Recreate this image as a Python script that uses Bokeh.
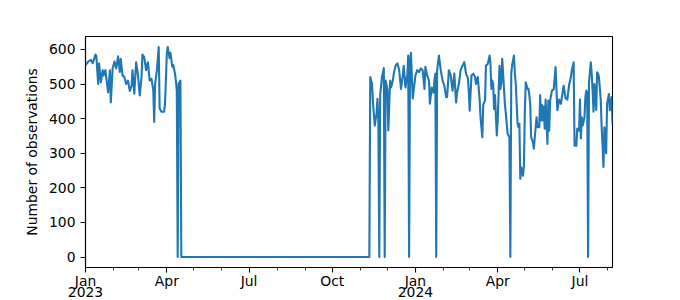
import pandas as pd
from bokeh.plotting import figure
from bokeh.models import Range1d, FixedTicker, DatetimeTickFormatter, DatetimeAxis
from bokeh.embed import file_html
from bokeh.resources import INLINE

# ---- data ----
dates = [
    "2023-01-01", "2023-01-04", "2023-01-07", "2023-01-09", "2023-01-12", "2023-01-13",
    "2023-01-15", "2023-01-16", "2023-01-18", "2023-01-20", "2023-01-21", "2023-01-23",
    "2023-01-26", "2023-01-28", "2023-01-29", "2023-01-31", "2023-02-02", "2023-02-04",
    "2023-02-06", "2023-02-08", "2023-02-09", "2023-02-11", "2023-02-13", "2023-02-15",
    "2023-02-17", "2023-02-19", "2023-02-21", "2023-02-22", "2023-02-24", "2023-02-26",
    "2023-02-28", "2023-03-02", "2023-03-04", "2023-03-05", "2023-03-07", "2023-03-09",
    "2023-03-11", "2023-03-13", "2023-03-15", "2023-03-17", "2023-03-18", "2023-03-19",
    "2023-03-21", "2023-03-23", "2023-03-24", "2023-03-26", "2023-03-29", "2023-03-30",
    "2023-04-01", "2023-04-02", "2023-04-04", "2023-04-05", "2023-04-07", "2023-04-08",
    "2023-04-10", "2023-04-11", "2023-04-12", "2023-04-13", "2023-04-14", "2023-04-16",
    "2023-04-17", "2023-11-11",
    "2023-11-12", "2023-11-14", "2023-11-15", "2023-11-17", "2023-11-19", "2023-11-20",
    "2023-11-21", "2023-11-22", "2023-11-23", "2023-11-25", "2023-11-27", "2023-11-28",
    "2023-11-29", "2023-12-01", "2023-12-02", "2023-12-04", "2023-12-05", "2023-12-07",
    "2023-12-08", "2023-12-10", "2023-12-12", "2023-12-14", "2023-12-16", "2023-12-18",
    "2023-12-19", "2023-12-21", "2023-12-23", "2023-12-24", "2023-12-25", "2023-12-26",
    "2023-12-27", "2023-12-29",
    "2024-01-01", "2024-01-03", "2024-01-05", "2024-01-07", "2024-01-09", "2024-01-11",
    "2024-01-12", "2024-01-14", "2024-01-16", "2024-01-17", "2024-01-19", "2024-01-21",
    "2024-01-22", "2024-01-23", "2024-01-24", "2024-01-25", "2024-01-27", "2024-01-29",
    "2024-01-31", "2024-02-02", "2024-02-04", "2024-02-05", "2024-02-07", "2024-02-09",
    "2024-02-11", "2024-02-13", "2024-02-15", "2024-02-16", "2024-02-18", "2024-02-20",
    "2024-02-22", "2024-02-24", "2024-02-26", "2024-02-28", "2024-02-29", "2024-03-01",
    "2024-03-03", "2024-03-05", "2024-03-07", "2024-03-08", "2024-03-10", "2024-03-12",
    "2024-03-13", "2024-03-15", "2024-03-16", "2024-03-18", "2024-03-19", "2024-03-21",
    "2024-03-23", "2024-03-24", "2024-03-25", "2024-03-26", "2024-03-27", "2024-03-28",
    "2024-03-29", "2024-03-31", "2024-04-01", "2024-04-03", "2024-04-04", "2024-04-05",
    "2024-04-06", "2024-04-07", "2024-04-09", "2024-04-10", "2024-04-12", "2024-04-14",
    "2024-04-15", "2024-04-16", "2024-04-17", "2024-04-19", "2024-04-20", "2024-04-21",
    "2024-04-23", "2024-04-24", "2024-04-25", "2024-04-26", "2024-04-27", "2024-04-29",
    "2024-04-30", "2024-05-01", "2024-05-02", "2024-05-04", "2024-05-05", "2024-05-06",
    "2024-05-07", "2024-05-08", "2024-05-10", "2024-05-11", "2024-05-12", "2024-05-14",
    "2024-05-15", "2024-05-17", "2024-05-18", "2024-05-19", "2024-05-20", "2024-05-21",
    "2024-05-22", "2024-05-23", "2024-05-24", "2024-05-26", "2024-05-27", "2024-05-28",
    "2024-05-29", "2024-05-31", "2024-06-02", "2024-06-04", "2024-06-05", "2024-06-06",
    "2024-06-08", "2024-06-10", "2024-06-11", "2024-06-13", "2024-06-15", "2024-06-17",
    "2024-06-19", "2024-06-21", "2024-06-22", "2024-06-24", "2024-06-25", "2024-06-27",
    "2024-06-28", "2024-06-30", "2024-07-01", "2024-07-02", "2024-07-03", "2024-07-04",
    "2024-07-06", "2024-07-07", "2024-07-08", "2024-07-09", "2024-07-10", "2024-07-11",
    "2024-07-13", "2024-07-14", "2024-07-15", "2024-07-16", "2024-07-17", "2024-07-19",
    "2024-07-20", "2024-07-21", "2024-07-22", "2024-07-24", "2024-07-25", "2024-07-26",
    "2024-07-27", "2024-07-28", "2024-07-30", "2024-07-31", "2024-08-02", "2024-08-03",
    "2024-08-05", "2024-08-06",
]
counts = [
    555, 565, 570, 560, 585, 580,
    500, 560, 505, 540, 525, 540,
    476, 540, 447, 545, 565, 545,
    580, 535, 573, 525, 520, 500,
    510, 480, 495, 540, 472, 563,
    527, 467, 520, 585, 578, 540,
    563, 510, 515, 482, 390, 500,
    540, 607, 430, 420, 420, 445,
    590, 607, 575, 590, 550, 555,
    530, 510, 480, 0, 500, 510,
    0, 0,
    520, 500, 447, 380, 415, 457,
    392, 0, 470, 520, 546, 0,
    510, 485, 366, 510, 490, 510,
    530, 553, 560, 540, 486, 525,
    553, 490, 525, 582, 0, 560,
    590, 458,
    525, 540, 535, 545, 540, 486,
    550, 525, 510, 443, 490, 475,
    510, 530, 0, 540, 582, 540,
    510, 495, 462, 462, 540, 525,
    481, 530, 447, 475, 500, 540,
    553, 563, 530, 517, 481, 423,
    525, 530, 520, 500, 520, 455,
    404, 346, 440, 452, 553, 558,
    582, 560, 486, 510, 500, 428,
    468, 351, 395, 553, 486, 505,
    573, 530, 440, 415, 356, 346,
    0, 530, 556, 582, 530, 500,
    385, 375, 385, 226, 259, 235,
    265, 420, 505, 486, 486, 468,
    440, 346, 332, 313, 346, 404,
    375, 375, 468, 395, 440, 395,
    435, 371, 455, 327, 452, 365,
    452, 481, 485, 549, 486, 424,
    455, 443, 462, 495, 459, 455,
    498, 520, 540, 563, 322, 322,
    371, 365, 455, 343, 404, 380,
    404, 462, 481, 475, 0, 505,
    563, 530, 481, 420, 500, 425,
    534, 530, 520, 455, 375, 322,
    260, 375, 300, 443, 471, 424,
    462, 385,
]

quarter_ticks = ["2023-01-01", "2023-04-01", "2023-07-01", "2023-10-01",
                 "2024-01-01", "2024-04-01", "2024-07-01"]
month_ticks = list(pd.date_range("2023-01-01", "2024-08-01", freq="MS"))
year_ticks = ["2023-01-01", "2024-01-01"]   # labelled "2023", "2024"
y_ticks = [0, 100, 200, 300, 400, 500, 600]
y_title = "Number of observations"

FONT = "DejaVu Sans"
FS = "13.9px"
LINE_COLOR = "#1f77b4"


def ms(d):
    return pd.Timestamp(d).value / 1e6


def fmt(pattern):
    return DatetimeTickFormatter(
        years=pattern, months=pattern, days=pattern, hours=pattern,
        hourmin=pattern, minutes=pattern, minsec=pattern, seconds=pattern,
        milliseconds=pattern, microseconds=pattern)


x = pd.to_datetime(dates)
ymin, ymax = min(counts), max(counts)
pad = 0.05 * (ymax - ymin)

p = figure(
    width=680, height=300,
    x_axis_type="datetime",
    output_backend="svg", toolbar_location=None,
    x_range=Range1d(x.min(), x.max()),
    y_range=Range1d(ymin - pad, ymax + pad),
    min_border_left=85, min_border_right=68,
    min_border_top=36, min_border_bottom=33,
    background_fill_color="white", border_fill_color="white",
)

p.line(x=x, y=counts, line_color=LINE_COLOR, line_width=2.1, line_join="round")

p.xgrid.grid_line_color = None
p.ygrid.grid_line_color = None
p.outline_line_color = "black"
p.outline_line_width = 1.1
p.outline_line_alpha = 1.0

xa = p.xaxis[0]
xa.ticker = FixedTicker(ticks=[ms(d) for d in quarter_ticks],
                        minor_ticks=[ms(d) for d in month_ticks])
xa.formatter = fmt("%b")

ya = p.yaxis[0]
ya.ticker = FixedTicker(ticks=y_ticks, minor_ticks=[])
ya.axis_label = y_title

for ax in (xa, ya):
    ax.axis_line_color = "black"
    ax.axis_line_width = 1.1
    ax.major_tick_line_color = "black"
    ax.minor_tick_line_color = "black"
    ax.major_tick_line_width = 1.1
    ax.minor_tick_line_width = 0.8
    ax.major_tick_in = 0
    ax.major_tick_out = 5
    ax.minor_tick_in = 0
    ax.minor_tick_out = 3
    ax.major_label_text_font = FONT
    ax.major_label_text_font_size = FS
    ax.major_label_text_color = "black"
    ax.major_label_standoff = 5
    ax.axis_label_text_font = FONT
    ax.axis_label_text_font_size = FS
    ax.axis_label_text_font_style = "normal"
    ax.axis_label_text_color = "black"
    ax.axis_label_standoff = 6

xa.major_label_standoff = 0
ya.minor_tick_out = 0

# second line of the date labels (the years), stacked under the month axis
year_axis = DatetimeAxis(
    ticker=FixedTicker(ticks=[ms(d) for d in year_ticks], minor_ticks=[]),
    formatter=fmt("%Y"),
    axis_line_color=None, major_tick_line_color=None, minor_tick_line_color=None,
    major_tick_in=0, major_tick_out=0, minor_tick_in=0, minor_tick_out=0,
    major_label_standoff=-5,
    major_label_text_font=FONT, major_label_text_font_size=FS,
    major_label_text_color="black",
)
p.add_layout(year_axis, "below")

open("out.html", "w").write(file_html(p, INLINE))
